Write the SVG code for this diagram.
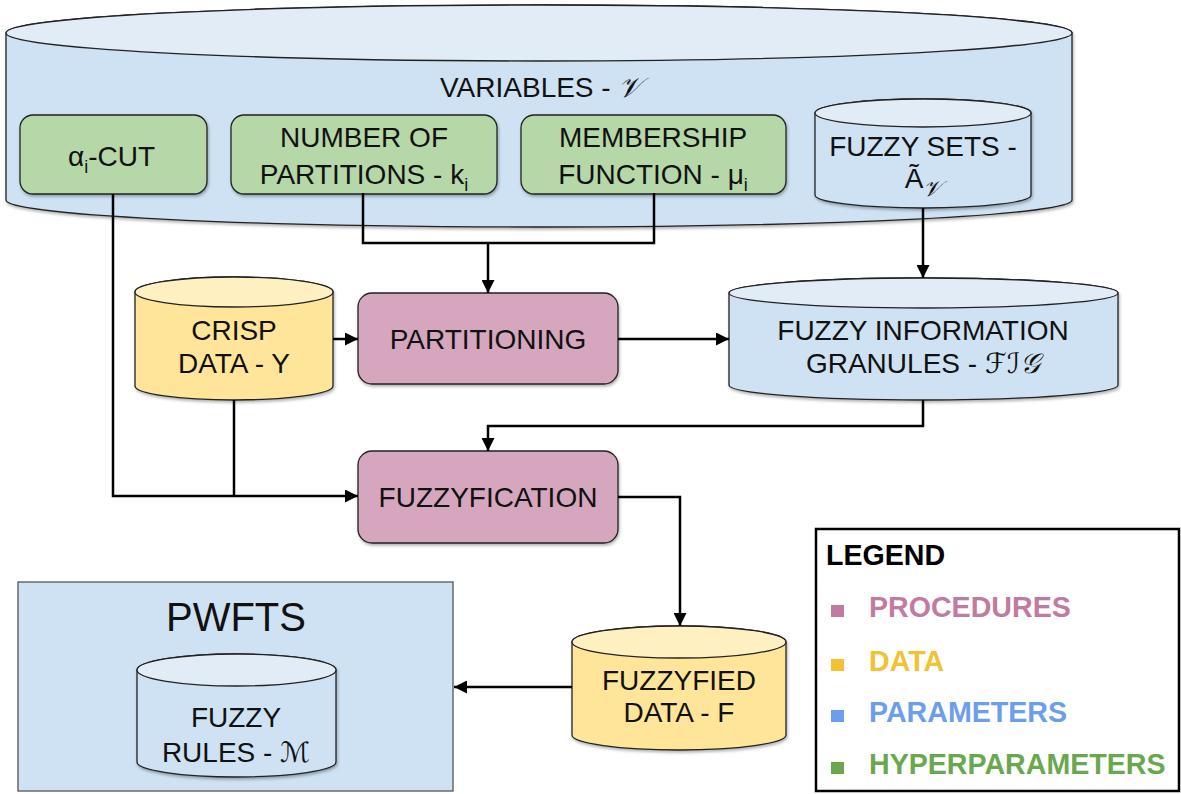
<svg xmlns="http://www.w3.org/2000/svg" width="1181" height="794" viewBox="0 0 1181 794">
<defs>
<filter id="sh" x="-5%" y="-5%" width="110%" height="120%">
<feDropShadow dx="1" dy="2" stdDeviation="1.5" flood-color="#000" flood-opacity="0.3"/>
</filter>
<marker id="arr" viewBox="0 0 10 10" markerUnits="userSpaceOnUse" markerWidth="15" markerHeight="13" refX="10" refY="5" orient="auto">
<path d="M0,0 L10,5 L0,10 z" fill="#000"/>
</marker>
</defs>
<style>
text{font-family:"Liberation Sans",Arial,sans-serif;font-size:28px;fill:#111}
.m{text-anchor:middle}
.sub{font-size:18px}
.cal{font-family:"DejaVu Serif","DejaVu Sans",serif;font-style:italic}
.pb{fill:#cfe2f3;stroke:#222;stroke-width:1.3}
.pt{fill:#e2ecf7;stroke:#222;stroke-width:1.3}
.db{fill:#ffe599;stroke:#222;stroke-width:1.3}
.dt{fill:#fff0c2;stroke:#222;stroke-width:1.3}
.hp{fill:#b6d7a8;stroke:#222;stroke-width:1.3}
.pr{fill:#d5a6bd;stroke:#222;stroke-width:1.3}
.c{fill:none;stroke:#000;stroke-width:2.5}
.lg{font-weight:bold;font-size:28.6px}
</style>

<g id="variables">
<g filter="url(#sh)">
<path class="pb" d="M6,33 L6,200 A533,27 0 0 0 1072,200 L1072,33 A533,28 0 0 0 6,33 Z"/>
<ellipse class="pt" cx="539" cy="33" rx="533" ry="28"/>
</g>
<text x="440" y="97">VARIABLES - <tspan class="cal">𝒱</tspan></text>
</g>

<g id="alpha-cut">
<rect class="hp" x="20" y="115" width="187" height="79" rx="13" filter="url(#sh)"/>
<text x="68" y="166">α<tspan class="sub" dy="7">i</tspan><tspan dy="-7">-CUT</tspan></text>
</g>

<g id="num-partitions">
<rect class="hp" x="231" y="115" width="266" height="79" rx="13" filter="url(#sh)"/>
<text class="m" x="364" y="147">NUMBER OF</text>
<text class="m" x="364" y="184">PARTITIONS - k<tspan class="sub" dy="7">i</tspan></text>
</g>

<g id="membership">
<rect class="hp" x="521" y="115" width="265" height="79" rx="13" filter="url(#sh)"/>
<text class="m" x="653" y="147">MEMBERSHIP</text>
<text class="m" x="653" y="184">FUNCTION - μ<tspan class="sub" dy="7">i</tspan></text>
</g>

<g id="fuzzy-sets">
<g filter="url(#sh)">
<path class="pb" d="M815,113 L815,195 A108,13 0 0 0 1031,195 L1031,113 A108,14 0 0 0 815,113 Z"/>
<ellipse class="pt" cx="923" cy="113" rx="108" ry="14"/>
</g>
<text class="m" x="923" y="156">FUZZY SETS -</text>
<text class="m" x="923" y="188">Ã<tspan class="cal" style="font-size:22px" dy="8">𝒱</tspan></text>
</g>

<g id="crisp-data">
<g filter="url(#sh)">
<path class="db" d="M135,292 L135,386 A99,14 0 0 0 333,386 L333,292 A99,15 0 0 0 135,292 Z"/>
<ellipse class="dt" cx="234" cy="292" rx="99" ry="15"/>
</g>
<text class="m" x="234" y="340">CRISP</text>
<text class="m" x="234" y="373">DATA - Y</text>
</g>

<g id="partitioning">
<rect class="pr" x="358" y="293" width="260" height="91" rx="14" filter="url(#sh)"/>
<text class="m" x="488" y="349">PARTITIONING</text>
</g>

<g id="fig">
<g filter="url(#sh)">
<path class="pb" d="M729,293 L729,385 A194.5,15 0 0 0 1118,385 L1118,293 A194.5,15 0 0 0 729,293 Z"/>
<ellipse class="pt" cx="923.5" cy="293" rx="194.5" ry="15"/>
</g>
<text class="m" x="923" y="340">FUZZY INFORMATION</text>
<text class="m" x="923" y="373">GRANULES - <tspan class="cal">ℱℐ𝒢</tspan></text>
</g>

<g id="fuzzyfication">
<rect class="pr" x="358" y="451" width="260" height="92" rx="14" filter="url(#sh)"/>
<text class="m" x="488" y="507">FUZZYFICATION</text>
</g>

<g id="fuzzyfied-data">
<g filter="url(#sh)">
<path class="db" d="M572,642 L572,735 A107,15 0 0 0 786,735 L786,642 A107,16 0 0 0 572,642 Z"/>
<ellipse class="dt" cx="679" cy="642" rx="107" ry="16"/>
</g>
<text class="m" x="679" y="690">FUZZYFIED</text>
<text class="m" x="679" y="722">DATA - F</text>
</g>

<g id="pwfts">
<rect x="18" y="582" width="435" height="209" fill="#cfe2f3" stroke="#555" stroke-width="1.3"/>
<text class="m" x="236" y="631" style="font-size:40px">PWFTS</text>
<g filter="url(#sh)">
<path class="pb" d="M137,670 L137,762 A99.5,15 0 0 0 336,762 L336,670 A99.5,16 0 0 0 137,670 Z"/>
<ellipse class="pt" cx="236.5" cy="670" rx="99.5" ry="16"/>
</g>
<text class="m" x="236" y="727">FUZZY</text>
<text class="m" x="236" y="762">RULES - <tspan class="cal">ℳ</tspan></text>
</g>

<g id="connectors">
<path class="c" d="M113,194 V496 H358" marker-end="url(#arr)"/>
<path class="c" d="M234,400 V496"/>
<path class="c" d="M363,193 V243 H654 V193"/>
<path class="c" d="M488,243 V293" marker-end="url(#arr)"/>
<path class="c" d="M923,208 V278" marker-end="url(#arr)"/>
<path class="c" d="M333,339 H358" marker-end="url(#arr)"/>
<path class="c" d="M618,339 H729" marker-end="url(#arr)"/>
<path class="c" d="M923,400 V426 H488 V451" marker-end="url(#arr)"/>
<path class="c" d="M618,497 H680 V626" marker-end="url(#arr)"/>
<path class="c" d="M572,687 H454" marker-end="url(#arr)"/>
</g>

<g id="legend">
<rect x="816" y="529" width="363" height="262" fill="#fff" stroke="#000" stroke-width="2.5"/>
<text class="lg" x="826" y="565" style="fill:#000">LEGEND</text>
<rect x="831" y="605" width="13" height="12" fill="#c27ba0"/>
<text class="lg" x="869" y="617" style="fill:#c27ba0">PROCEDURES</text>
<rect x="831" y="659" width="13" height="12" fill="#f1c232"/>
<text class="lg" x="869" y="671" style="fill:#f1c232">DATA</text>
<rect x="831" y="710" width="13" height="12" fill="#6d9eeb"/>
<text class="lg" x="869" y="722" style="fill:#6d9eeb">PARAMETERS</text>
<rect x="831" y="762" width="13" height="12" fill="#6aa84f"/>
<text class="lg" x="869" y="774" style="fill:#6aa84f">HYPERPARAMETERS</text>
</g>
</svg>
